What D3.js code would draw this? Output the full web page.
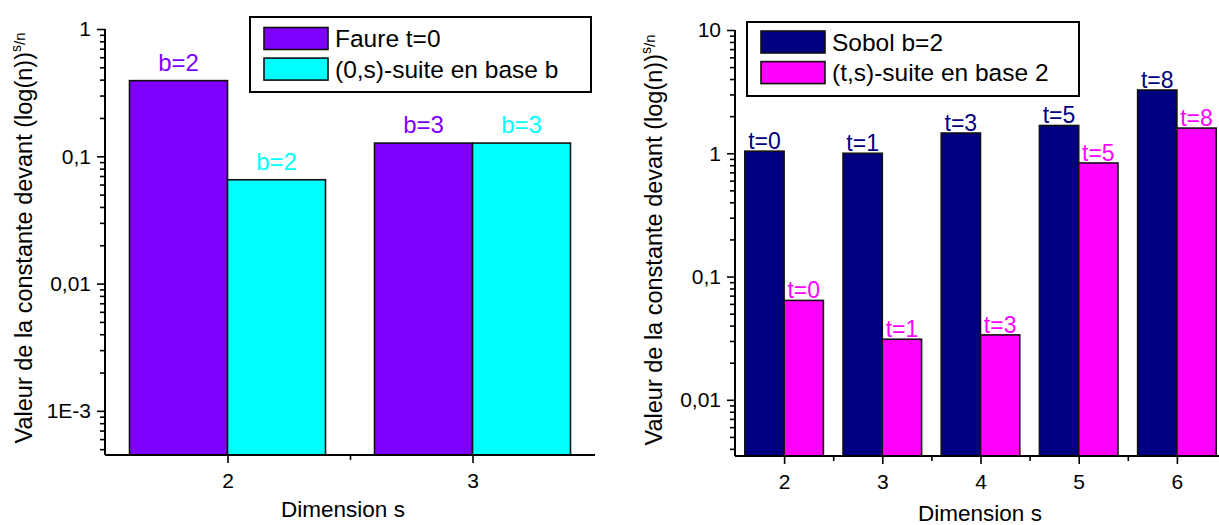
<!DOCTYPE html>
<html>
<head>
<meta charset="utf-8">
<script src="https://cdn.jsdelivr.net/npm/d3@7/dist/d3.min.js"></script>
<style>
  html, body { margin: 0; padding: 0; background: #fff; }
  svg { display: block; font-family: "Liberation Sans", Arial, sans-serif; }
</style>
</head>
<body>
<svg id="chart" width="1219" height="525"></svg>
<script>
// ---------- Data ----------
const leftCategories = [2, 3];
const faureValues = [0.393, 0.127];
const zeroSValues = [0.0654, 0.127];
const faureLabels = ["b=2", "b=3"];
const zeroSLabels = ["b=2", "b=3"];
const leftSeriesNames = ["Faure t=0", "(0,s)-suite en base b"];
const leftTickValues = [1, 0.1, 0.01, 0.001];
const leftTickLabels = ["1", "0,1", "0,01", "1E-3"];

const rightCategories = [2, 3, 4, 5, 6];
const sobolValues = [1.04, 1.0, 1.46, 1.68, 3.26];
const tsValues = [0.064, 0.031, 0.0336, 0.834, 1.6];
const sobolLabels = ["t=0", "t=1", "t=3", "t=5", "t=8"];
const tsLabels = ["t=0", "t=1", "t=3", "t=5", "t=8"];
const rightSeriesNames = ["Sobol b=2", "(t,s)-suite en base 2"];
const rightTickValues = [10, 1, 0.1, 0.01];
const rightTickLabels = ["10", "1", "0,1", "0,01"];

const xTitle = "Dimension s";
const yTitleMain = "Valeur de la constante devant (log(n))";
const yTitleSup = "s";
const yTitleAfter = "/n";

// ---------- Drawing ----------
const svg = d3.select("#chart");

function minorTicks(domain) {
  const lo = Math.min(domain[0], domain[1]), hi = Math.max(domain[0], domain[1]);
  const out = [];
  for (let k = Math.floor(Math.log10(lo)); k <= Math.ceil(Math.log10(hi)); k++) {
    for (let m = 2; m <= 9; m++) {
      const v = m * Math.pow(10, k);
      if (v >= lo && v <= hi) out.push(v);
    }
  }
  return out;
}

function drawChart(cfg) {
  const g = svg.append("g");
  const x = d3.scaleLinear().domain(cfg.xDomain).range(cfg.xRange);
  const y = d3.scaleLog().domain(cfg.yDomain).range(cfg.yRange);
  const bottom = cfg.yRange[1];
  const bw = cfg.barWidth;

  // bars
  cfg.series.forEach((s, si) => {
    const off = si === 0 ? -bw : 0;
    g.selectAll(null).data(cfg.categories).enter().append("rect")
      .attr("x", (d) => x(d + off))
      .attr("y", (d, i) => y(s.values[i]))
      .attr("width", (d) => x(d + off + bw) - x(d + off))
      .attr("height", (d, i) => bottom - y(s.values[i]))
      .attr("fill", s.color)
      .attr("stroke", "#111")
      .attr("stroke-width", 1.6);
    g.selectAll(null).data(cfg.categories).enter().append("text")
      .attr("x", (d) => x(d + off + bw / 2))
      .attr("y", (d, i) => y(s.values[i]) - cfg.labelGap)
      .attr("text-anchor", "middle")
      .attr("font-size", cfg.labelSize)
      .attr("fill", s.color)
      .text((d, i) => s.labels[i]);
  });

  // y axis
  const yAxis = d3.axisLeft(y).tickValues(cfg.yTicks)
    .tickFormat((d, i) => cfg.yTickLabels[i]).tickSize(8).tickPadding(6);
  const ya = g.append("g").attr("transform", `translate(${cfg.xRange[0]},0)`).call(yAxis);
  const yMinor = d3.axisLeft(y).tickValues(minorTicks(cfg.yDomain)).tickFormat("").tickSize(5);
  const ym = g.append("g").attr("transform", `translate(${cfg.xRange[0]},0)`).call(yMinor);
  ym.select(".domain").remove();

  // x axis
  const xAxis = d3.axisBottom(x).tickValues(cfg.categories).tickFormat(d3.format("d"))
    .tickSize(8).tickPadding(10);
  const xa = g.append("g").attr("transform", `translate(0,${bottom})`).call(xAxis);
  const xMinorVals = cfg.categories.slice(0, -1).map((c) => c + 0.5);
  const xMinor = d3.axisBottom(x).tickValues(xMinorVals).tickFormat("").tickSize(5);
  const xm = g.append("g").attr("transform", `translate(0,${bottom})`).call(xMinor);
  xm.select(".domain").remove();

  [ya, ym, xa, xm].forEach((a) => {
    a.selectAll("path.domain").attr("stroke", "#000").attr("stroke-width", 2);
    a.selectAll(".tick line").attr("stroke", "#000").attr("stroke-width", 1.6);
    a.selectAll(".tick text").attr("font-size", 21).attr("fill", "#000")
      .attr("font-family", "Liberation Sans, Arial, sans-serif");
  });
  ya.select("path.domain").attr("d", `M0,${cfg.yRange[0]}V${bottom}`);
  xa.select("path.domain").attr("d", `M${cfg.xRange[0]},0H${cfg.xRange[1]}`);

  // x title
  g.append("text")
    .attr("x", cfg.xTitleX).attr("y", cfg.xTitleY)
    .attr("text-anchor", "middle").attr("font-size", 22.5).attr("fill", "#000")
    .text(xTitle);

  // y title
  const yt = g.append("text")
    .attr("transform", `translate(${cfg.yTitleX},${cfg.yTitleY}) rotate(-90)`)
    .attr("text-anchor", "middle").attr("font-size", 23.5).attr("fill", "#000");
  yt.append("tspan").text(yTitleMain);
  yt.append("tspan").attr("font-size", 14).attr("dy", -11).text(yTitleSup);
  yt.append("tspan").attr("font-size", 15).attr("dy", 4).text(yTitleAfter);

  // legend
  const L = cfg.legend;
  g.append("rect").attr("x", L.x).attr("y", L.y).attr("width", L.w).attr("height", L.h)
    .attr("fill", "#fff").attr("stroke", "#000").attr("stroke-width", 2);
  cfg.series.forEach((s, si) => {
    const ry = L.y + L.padTop + si * L.rowGap;
    g.append("rect").attr("x", L.x + 14).attr("y", ry).attr("width", 64).attr("height", 22)
      .attr("fill", s.color).attr("stroke", "#111").attr("stroke-width", 1.6);
    g.append("text").attr("x", L.x + 85).attr("y", ry + 11).attr("dy", "0.36em")
      .attr("font-size", 24.5).attr("fill", "#000").text(s.name);
  });
}

drawChart({
  categories: leftCategories,
  xDomain: [1.5, 3.5], xRange: [105, 595],
  yDomain: [1, 4.5e-4], yRange: [29, 455],
  yTicks: leftTickValues, yTickLabels: leftTickLabels,
  barWidth: 0.4, labelGap: 10, labelSize: 24,
  series: [
    { name: leftSeriesNames[0], values: faureValues, labels: faureLabels, color: "#8000ff" },
    { name: leftSeriesNames[1], values: zeroSValues, labels: zeroSLabels, color: "#00ffff" }
  ],
  xTitleX: 343, xTitleY: 517,
  yTitleX: 32, yTitleY: 238,
  legend: { x: 250, y: 17, w: 341, h: 75, padTop: 10.5, rowGap: 30.6 }
});

drawChart({
  categories: rightCategories,
  xDomain: [1.5, 6.5], xRange: [735, 1226],
  yDomain: [10, 0.0035], yRange: [30, 456],
  yTicks: rightTickValues, yTickLabels: rightTickLabels,
  barWidth: 0.4, labelGap: 2, labelSize: 23,
  series: [
    { name: rightSeriesNames[0], values: sobolValues, labels: sobolLabels, color: "#000080" },
    { name: rightSeriesNames[1], values: tsValues, labels: tsLabels, color: "#ff00ff" }
  ],
  xTitleX: 980, xTitleY: 521,
  yTitleX: 662, yTitleY: 240,
  legend: { x: 747, y: 22, w: 332, h: 74, padTop: 9, rowGap: 30.6 }
});
</script>
</body>
</html>
